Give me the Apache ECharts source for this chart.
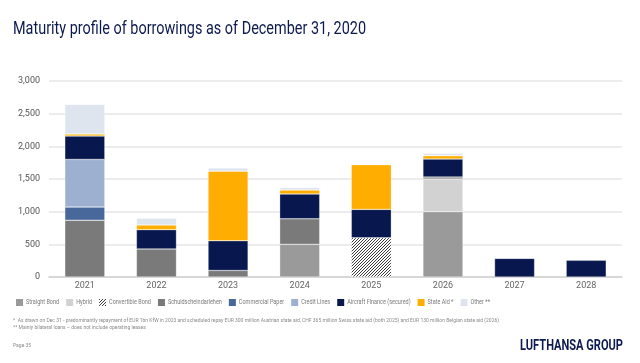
<!DOCTYPE html>
<html><head><meta charset="utf-8">
<script src="https://cdn.jsdelivr.net/npm/echarts@6/dist/echarts.min.js"></script>
<style>html,body{margin:0;padding:0;background:#fff}#c{width:640px;height:363px}</style>
</head><body><div id="c"></div>
<script>
var years = ['2021','2022','2023','2024','2025','2026','2027','2028'];
var straightBond   = [0, 0, 0, 500, 0, 1000, 0, 0];
var hybrid         = [0, 0, 0, 0, 0, 500, 0, 0];
var convertible    = [0, 0, 0, 0, 600, 0, 0, 0];
var schuldschein   = [870, 430, 100, 390, 0, 30, 0, 0];
var commercialPaper= [200, 0, 0, 0, 0, 0, 0, 0];
var creditLines    = [730, 0, 0, 0, 0, 0, 0, 0];
var aircraft       = [357, 295, 455, 380, 435, 275, 285, 255];
var stateAid       = [30, 70, 1065, 60, 685, 50, 0, 0];
var other          = [455, 105, 50, 40, 10, 40, 0, 0];
var seriesNames = ['Straight Bond','Hybrid','Convertible Bond','Schuldscheindarlehen','Commercial Paper','Credit Lines','Aircraft Finance (secured)','State Aid *','Other **'];
var yTicks = [0, 500, 1000, 1500, 2000, 2500, 3000];
var titleText = 'Maturity profile of borrowings as of December 31, 2020';
var note1 = '*  As drawn on Dec 31 - predominantly repayment of EUR 1bn KfW in 2023 and scheduled repay EUR 300 million Austrian state aid, CHF 365 million Swiss state aid (both 2025) and EUR 130 million Belgian state aid (2026)';
var note2 = '** Mainly bilateral loans – does not include operating leases';
var pageText = 'Page 35';
var brandText = 'LUFTHANSA GROUP';

var mctx = document.createElement('canvas').getContext('2d');
function tw(text, font){ mctx.font = font; return mctx.measureText(text).width; }

// hatch pattern
var pc = document.createElement('canvas');
pc.width = 3; pc.height = 3;
var px = pc.getContext('2d');
px.fillStyle = '#ffffff'; px.fillRect(0,0,3,3);
px.fillStyle = '#3a3a3a';
px.fillRect(2,0,1,1); px.fillRect(1,1,1,1); px.fillRect(0,2,1,1);
var hatch = {image: pc, repeat: 'repeat'};

var colors = ['#9a9a9a','#d2d2d2',hatch,'#7a7a7a','#48689b','#9db0cf','#08184e','#ffad00','#dfe5ef'];
var dataSets = [straightBond,hybrid,convertible,schuldschein,commercialPaper,creditLines,aircraft,stateAid,other];

var series = dataSets.map(function(d,i){
  return {
    name: seriesNames[i], type:'bar', stack:'t', barWidth:40,
    data: d.map(function(v){return v===0?null:v;}),
    itemStyle:{color: colors[i], borderColor:'rgba(255,255,255,0.6)', borderWidth:0.5},
    emphasis:{disabled:true}
  };
});

// graphic texts (horizontally condensed to mimic the narrow corporate font)
var graphics = [];
var titleFont = '18px Roboto';
graphics.push({type:'text', x:13, y:20, scaleX: 353 / tw(titleText, titleFont),
  style:{text:titleText, font:titleFont, fill:'#0c1a4f', textVerticalAlign:'top'}, silent:true});
var noteFont = '5.5px Roboto';
var noteScale = 486 / tw(note1, noteFont);
graphics.push({type:'text', x:13, y:318, scaleX: noteScale,
  style:{text:note1, font:noteFont, fill:'#8a8a8a', textVerticalAlign:'top'}, silent:true});
graphics.push({type:'text', x:13, y:325, scaleX: noteScale,
  style:{text:note2, font:noteFont, fill:'#8a8a8a', textVerticalAlign:'top'}, silent:true});
graphics.push({type:'text', x:13, y:343, scaleX: noteScale,
  style:{text:pageText, font:noteFont, fill:'#8a8a8a', textVerticalAlign:'top'}, silent:true});
var brandFont = 'bold 14px Roboto';
graphics.push({type:'text', x:520, y:339, scaleX: 103 / tw(brandText, brandFont),
  style:{text:brandText, font:brandFont, fill:'#0c1a4f', textVerticalAlign:'top'}, silent:true});

// legend built from the series names and colours
var legFont = '7.5px Roboto';
var sq = 7, gapIn = 3, gapOut = 7;
var natural = 0;
seriesNames.forEach(function(n){ natural += tw(n, legFont); });
var legScale = (474 - seriesNames.length*(sq+gapIn) - (seriesNames.length-1)*gapOut) / natural;
var lx = 16, ly = 299;
seriesNames.forEach(function(n, i){
  graphics.push({type:'rect', shape:{x:lx, y:ly, width:sq, height:sq}, style:{fill: colors[i]}, silent:true});
  lx += sq + gapIn;
  graphics.push({type:'text', x:lx, y:ly + sq/2, scaleX: legScale,
    style:{text:n, font:legFont, fill:'#7a7a7a', textVerticalAlign:'middle'}, silent:true});
  lx += tw(n, legFont)*legScale + gapOut;
});

var chart = echarts.init(document.getElementById('c'));
chart.setOption({
  animation:false,
  textStyle:{fontFamily:'Roboto, sans-serif'},
  graphic: graphics,
  grid:{left:49, right:18, top:81, bottom:86},
  xAxis:{type:'category', data:years,
    axisLine:{lineStyle:{color:'#d0d0d0', width:1.5}}, axisTick:{show:false},
    axisLabel:{color:'#666', fontSize:9, margin:4}},
  yAxis:{type:'value', min:yTicks[0], max:yTicks[yTicks.length-1], interval:500,
    axisLine:{show:false}, axisTick:{show:false},
    splitLine:{lineStyle:{color:'#e6e6e6', width:1.5}},
    axisLabel:{color:'#555', fontSize:9, margin:9, formatter:function(v){return v.toLocaleString('en-US');}}},
  series: series
});
</script></body></html>
